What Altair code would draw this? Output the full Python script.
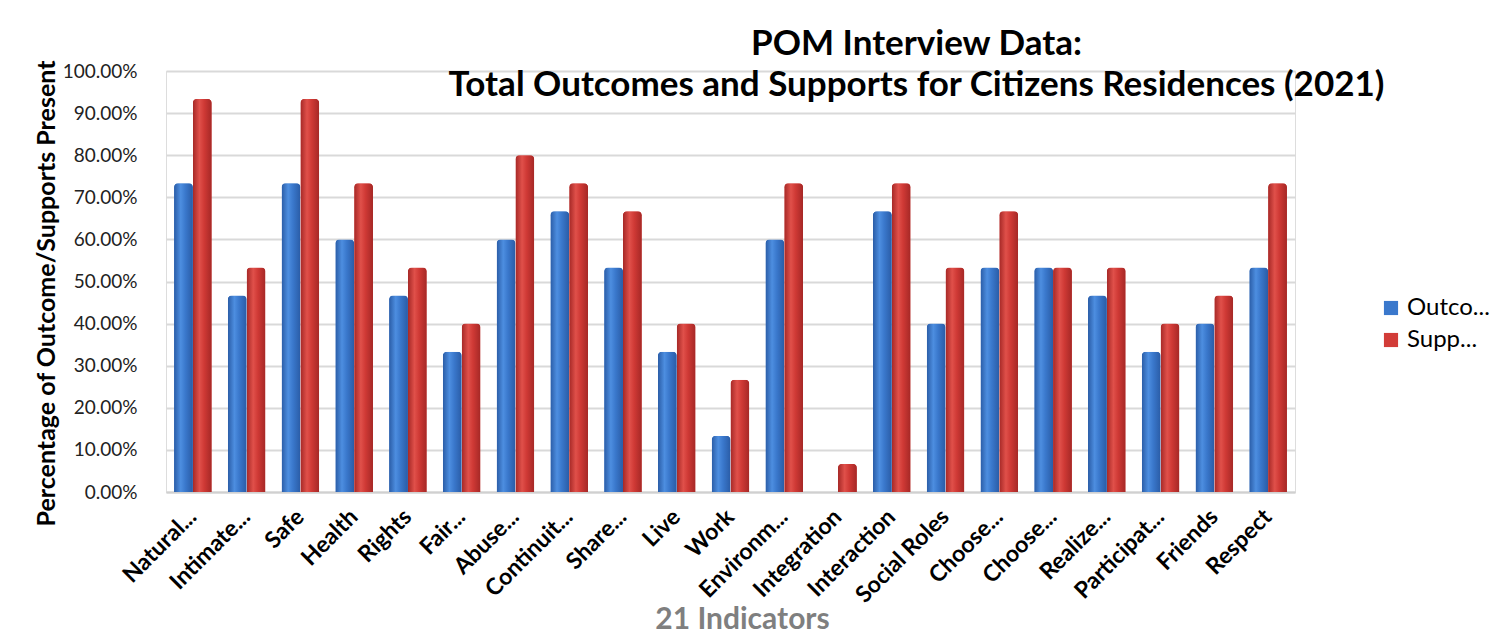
import altair as alt
import pandas as pd

indicators = [
    "Natural Supports", "Intimate Relationships", "Safe", "Health", "Rights",
    "Fair Treatment", "Abuse Neglect", "Continuity Security", "Share Information",
    "Live", "Work", "Environments", "Integration", "Interaction", "Social Roles",
    "Choose Services", "Choose Goals", "Realize Goals", "Participate", "Friends",
    "Respect",
]
short_labels = [
    "Natural...", "Intimate...", "Safe", "Health", "Rights", "Fair...", "Abuse...",
    "Continuit...", "Share...", "Live", "Work", "Environm...", "Integration",
    "Interaction", "Social Roles", "Choose...", "Choose...", "Realize...",
    "Participat...", "Friends", "Respect",
]
outcomes = [73.33, 46.67, 73.33, 60.00, 46.67, 33.33, 60.00, 66.67, 53.33, 33.33,
            13.33, 60.00, 0.00, 66.67, 40.00, 53.33, 53.33, 46.67, 33.33, 40.00, 53.33]
supports = [93.33, 53.33, 93.33, 73.33, 53.33, 40.00, 80.00, 73.33, 66.67, 40.00,
            26.67, 73.33, 6.67, 73.33, 53.33, 66.67, 53.33, 53.33, 40.00, 46.67, 73.33]
series_names = ["Outcomes", "Supports"]
legend_labels = ["Outco...", "Supp..."]
y_ticks = [0.0, 0.1, 0.2, 0.3, 0.4, 0.5, 0.6, 0.7, 0.8, 0.9, 1.0]

rows = []
for ind, o, s in zip(indicators, outcomes, supports):
    rows.append({"indicator": ind, "series": series_names[0], "value": o / 100})
    rows.append({"indicator": ind, "series": series_names[1], "value": s / 100})
df = pd.DataFrame(rows)

label_map = "{" + ",".join(f"'{k}':'{v}'" for k, v in zip(indicators, short_labels)) + "}"
legend_map = "{" + ",".join(f"'{k}':'{v}'" for k, v in zip(series_names, legend_labels)) + "}"

FONT = "Lato"
BLUE = "#3a78cc"
RED = "#d23c38"


def cyl(dark, mid, light):
    return {
        "gradient": "linear", "x1": 0, "y1": 0, "x2": 1, "y2": 0,
        "stops": [
            {"offset": 0.0, "color": dark},
            {"offset": 0.35, "color": light},
            {"offset": 0.6, "color": mid},
            {"offset": 1.0, "color": dark},
        ],
    }


BLUE_GRAD = cyl("#2a5ca6", "#3a78cc", "#4d8ee0")
RED_GRAD = cyl("#a52826", "#cf3935", "#e0504a")

x_enc = alt.X(
    "indicator:N",
    sort=indicators,
    scale=alt.Scale(paddingInner=0.3, paddingOuter=0.15),
    title="21 Indicators",
    axis=alt.Axis(
        labelExpr=label_map + "[datum.value]",
        labelAngle=-45,
        labelAlign="right",
        labelBaseline="middle",
        labelFont=FONT,
        labelFontSize=23,
        labelFontWeight="bold",
        labelColor="#000000",
        labelPadding=21,
        ticks=False,
        domainColor="#d0d0d0",
        domainWidth=2,
        titleFont=FONT,
        titleFontSize=30,
        titleFontWeight="bold",
        titleColor="#7f7f7f",
        titleX=576,
        titleY=127,
        titleBaseline="middle",
        titleAlign="center",
    ),
)
y_enc = alt.Y(
    "value:Q",
    scale=alt.Scale(domain=[0, 1]),
    title="Percentage of Outcome/Supports Present",
    axis=alt.Axis(
        values=y_ticks,
        format=".2%",
        labelFont=FONT,
        labelFontSize=19,
        labelColor="#222222",
        labelPadding=29,
        ticks=False,
        domain=False,
        gridColor="#d9d9d9",
        gridWidth=2,
        titleFont=FONT,
        titleFontSize=25,
        titleFontWeight="bold",
        titleColor="#000000",
        titleX=-120,
        titleY=222,
        titleBaseline="middle",
        titleAlign="center",
    ),
)

base = alt.Chart(df).encode(
    x=x_enc,
    xOffset=alt.XOffset("series:N", sort=series_names),
    y=y_enc,
)

flat = base.mark_bar(cornerRadiusTopLeft=4, cornerRadiusTopRight=4).encode(
    color=alt.Color(
        "series:N",
        scale=alt.Scale(domain=series_names, range=[BLUE, RED]),
        legend=alt.Legend(
            title=None,
            orient="none",
            legendX=1213,
            legendY=225,
            symbolType="square",
            symbolSize=200,
            symbolStrokeWidth=0,
            labelExpr=legend_map + "[datum.label]",
            labelFont=FONT,
            labelFontSize=24,
            labelColor="#000000",
            rowPadding=8,
        ),
    ),
)

shaded = base.mark_bar(cornerRadiusTopLeft=4, cornerRadiusTopRight=4).encode(
    color=alt.condition(
        alt.datum.series == series_names[0],
        alt.value(BLUE_GRAD),
        alt.value(RED_GRAD),
    ),
)

chart = alt.layer(flat, shaded).properties(
    width=1129,
    height=421,
    padding={"left": 33, "top": 26, "right": 5, "bottom": 5},
    title=alt.TitleParams(
        text=["POM Interview Data:", "Total Outcomes and Supports for Citizens Residences (2021)"],
        font=FONT,
        fontSize=35,
        fontWeight="bold",
        color="#000000",
        anchor="middle",
        dx=186,
        offset=-43,
        lineHeight=41,
    ),
).configure_view(stroke=None).configure(background="#ffffff")

chart.save("out.html", embed_options={"renderer": "svg", "actions": False})
